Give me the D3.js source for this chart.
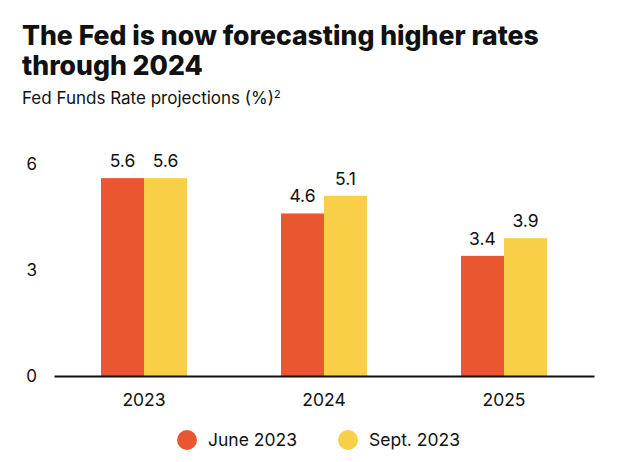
<!DOCTYPE html>
<html>
<head>
<meta charset="utf-8">
<script src="https://cdn.jsdelivr.net/npm/d3@7"></script>
<style>
  html, body { margin: 0; padding: 0; background: #fff; }
  svg { display: block; }
  text { font-family: Inter, "Noto Sans", sans-serif; fill: #111; }
</style>
</head>
<body>
<svg id="chart" width="640" height="462"></svg>
<script>
const years = ["2023", "2024", "2025"];
const seriesNames = ["June 2023", "Sept. 2023"];
const june2023 = [5.6, 4.6, 3.4];
const sept2023 = [5.6, 5.1, 3.9];
const yTicks = [0, 3, 6];
const titleLines = ["The Fed is now forecasting higher rates", "through 2024"];
const subtitle = "Fed Funds Rate projections (%)";
const colors = ["#EA5630", "#F8CF47"];

const seriesValues = [june2023, sept2023];
const svg = d3.select("#chart");

// Title
const title = svg.append("text").attr("x", 22).attr("y", 45)
  .style("font-weight", 800).style("font-size", "26px");
titleLines.forEach((t, i) => {
  title.append("tspan").attr("x", 22).attr("dy", i === 0 ? 0 : 30).text(t);
});
const firstLine = title.select("tspan").node();
const w = firstLine.getComputedTextLength();
const target = 517;
title.style("font-size", (26 * target / w).toFixed(2) + "px");

const sub = svg.append("text").attr("x", 22).attr("y", 104).style("font-size", "17px");
sub.append("tspan").text(subtitle);
sub.append("tspan").attr("dy", -6).style("font-size", "11px").text("2");

// Scales
const y = d3.scaleLinear().domain([0, 6]).range([376, 164]);
const x0 = d3.scaleBand().domain(years).range([54, 594]).padding(0);
const groupW = 86;
const x1 = d3.scaleBand().domain(seriesNames).range([0, groupW]).padding(0);

const data = [];
years.forEach((yr, i) => {
  seriesNames.forEach((s, j) => {
    data.push({ year: yr, series: s, value: seriesValues[j][i], color: colors[j] });
  });
});

const bx = d => x0(d.year) + x0.bandwidth() / 2 - groupW / 2 + x1(d.series);

svg.append("g").selectAll("rect").data(data).join("rect")
  .attr("x", d => bx(d))
  .attr("y", d => y(d.value))
  .attr("width", x1.bandwidth())
  .attr("height", d => y(0) - y(d.value))
  .attr("fill", d => d.color);

svg.append("g").selectAll("text").data(data).join("text")
  .attr("x", d => bx(d) + x1.bandwidth() / 2)
  .attr("y", d => y(d.value) - 11)
  .attr("text-anchor", "middle")
  .style("font-size", "17.5px")
  .text(d => d3.format(".1f")(d.value));

// Y axis
const yAxis = svg.append("g").attr("transform", "translate(40,0)")
  .call(d3.axisLeft(y).tickValues(yTicks).tickSize(0).tickPadding(3).tickFormat(d3.format("d")));
yAxis.select(".domain").remove();
yAxis.selectAll("text").style("font-size", "17px").style("font-family", "Inter, sans-serif").attr("fill", "#111");

// X axis
const xAxis = svg.append("g").attr("transform", "translate(0,376)")
  .call(d3.axisBottom(x0).tickSize(0).tickPadding(18));
xAxis.select(".domain").attr("stroke", "#111").attr("stroke-width", 2.2);
xAxis.selectAll("text").style("font-size", "17.5px").style("font-family", "Inter, sans-serif").attr("fill", "#111");

// Legend
const legendX = [187, 348];
const leg = svg.append("g").selectAll("g").data(seriesNames).join("g")
  .attr("transform", (d, i) => `translate(${legendX[i]},440)`);
leg.append("circle").attr("r", 10).attr("fill", (d, i) => colors[i]);
leg.append("text").attr("x", 21).attr("dy", "0.35em").style("font-size", "17.5px").text(d => d);
</script>
</body>
</html>
